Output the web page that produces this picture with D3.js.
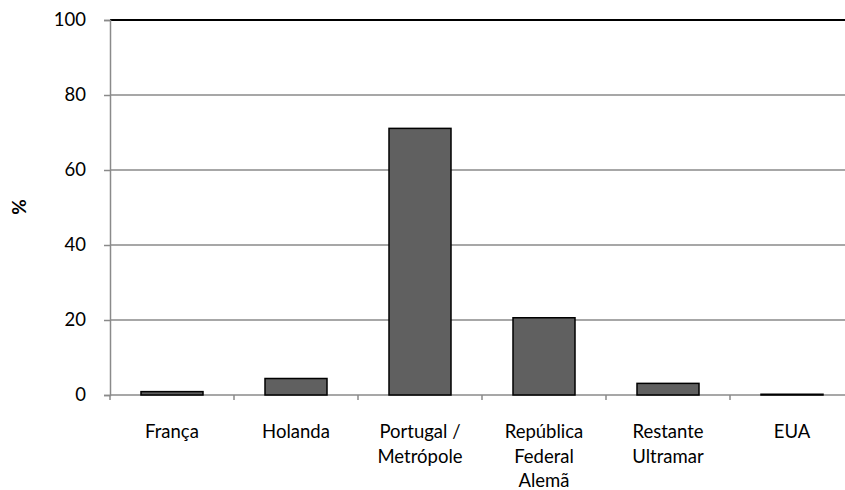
<!DOCTYPE html>
<html>
<head>
<meta charset="utf-8">
<script src="https://cdn.jsdelivr.net/npm/d3@7"></script>
<style>
  html, body { margin: 0; padding: 0; background: #fff; }
  svg text { font-family: Lato, "Open Sans", sans-serif; fill: #000; }
</style>
</head>
<body>
<svg id="chart" width="845" height="490"></svg>
<script>
// Destination shares (%)
const categories = [
  ["França"],
  ["Holanda"],
  ["Portugal /", "Metrópole"],
  ["República", "Federal", "Alemã"],
  ["Restante", "Ultramar"],
  ["EUA"]
];
const values = [0.9, 4.4, 71.1, 20.6, 3.1, 0.2];
const yTicks = [0, 20, 40, 60, 80, 100];
const yLabel = "%";

const svg = d3.select("#chart");
const plotLeft = 110, plotTop = 20, plotBottom = 395;
const band = 124;
const plotRight = plotLeft + band * categories.length;
const fontSize = 18.5;

const keys = categories.map((c, i) => i);
const x = d3.scaleBand().domain(keys).range([plotLeft, plotRight]).paddingInner(0.5).paddingOuter(0.25);
const y = d3.scaleLinear().domain([0, 100]).range([plotBottom, plotTop]);

// horizontal gridlines
svg.append("g").selectAll("line")
  .data(yTicks.filter(t => t > 0 && t < 100))
  .join("line")
  .attr("x1", plotLeft).attr("x2", plotRight)
  .attr("y1", d => y(d)).attr("y2", d => y(d))
  .attr("stroke", "#8a8a8a").attr("stroke-width", 1.5);

// top border at 100
svg.append("line")
  .attr("x1", plotLeft).attr("x2", plotRight)
  .attr("y1", y(100)).attr("y2", y(100))
  .attr("stroke", "#000").attr("stroke-width", 2);

// y axis
const yAxis = d3.axisLeft(y).tickValues(yTicks).tickSize(6).tickPadding(18);
const gy = svg.append("g").attr("transform", `translate(${plotLeft},0)`).call(yAxis);
gy.attr("font-family", null).attr("font-size", null);
gy.select(".domain").attr("stroke", "#8a8a8a").attr("stroke-width", 1.5);
gy.selectAll(".tick line").attr("stroke", "#8a8a8a").attr("stroke-width", 1.5);
gy.selectAll(".tick text").attr("font-size", fontSize);

// x axis baseline and band-boundary ticks
svg.append("line")
  .attr("x1", plotLeft).attr("x2", plotRight)
  .attr("y1", plotBottom).attr("y2", plotBottom)
  .attr("stroke", "#8a8a8a").attr("stroke-width", 1.5);
svg.append("g").selectAll("line")
  .data(d3.range(categories.length + 1))
  .join("line")
  .attr("x1", i => plotLeft + i * band).attr("x2", i => plotLeft + i * band)
  .attr("y1", plotBottom).attr("y2", plotBottom + 5)
  .attr("stroke", "#8a8a8a").attr("stroke-width", 1.5);

// bars
svg.append("g").selectAll("rect")
  .data(values)
  .join("rect")
  .attr("x", (d, i) => x(i))
  .attr("width", x.bandwidth())
  .attr("y", d => y(d))
  .attr("height", d => y(0) - y(d))
  .attr("fill", "#606060")
  .attr("stroke", "#000")
  .attr("stroke-width", 1.5);

// category labels
const lab = svg.append("g").selectAll("text")
  .data(categories)
  .join("text")
  .attr("text-anchor", "middle")
  .attr("font-size", fontSize)
  .attr("x", (d, i) => x(i) + x.bandwidth() / 2)
  .attr("y", 438);
lab.selectAll("tspan")
  .data(d => d)
  .join("tspan")
  .attr("x", function () { return d3.select(this.parentNode).attr("x"); })
  .attr("dy", (d, i) => i === 0 ? 0 : 24.5)
  .text(d => d);

// y axis title
svg.append("text")
  .attr("transform", `translate(26,207) rotate(-90)`)
  .attr("text-anchor", "middle")
  .attr("font-size", 19)
  .attr("font-weight", "bold")
  .text(yLabel);
</script>
</body>
</html>
